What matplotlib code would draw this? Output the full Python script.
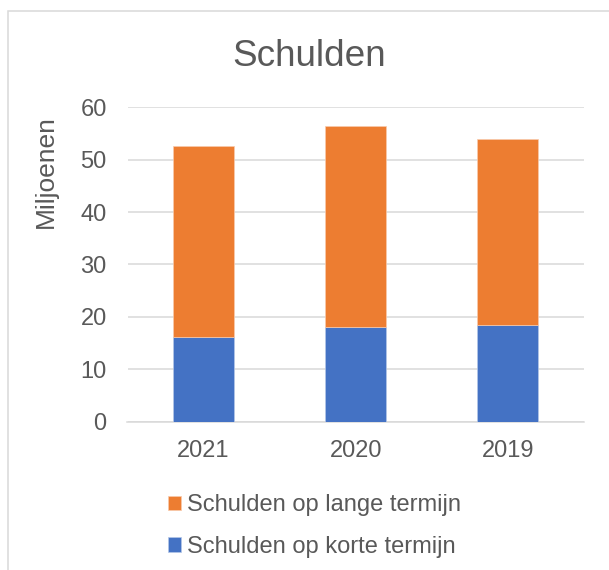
import matplotlib
matplotlib.use("Agg")
import matplotlib.pyplot as plt
from matplotlib.patches import Rectangle
import numpy as np

years = ["2021", "2020", "2019"]
korte_termijn = [16.1, 18.1, 18.4]
lange_termijn = [36.5, 38.3, 35.5]
yticks = [0, 10, 20, 30, 40, 50, 60]

blue = "#4472C4"
orange = "#ED7D31"
textc = "#595959"
gridc = "#D9D9D9"

plt.rcParams['font.family'] = ['Liberation Sans', 'DejaVu Sans']

W, H = 609, 570
fig = plt.figure(figsize=(W / 100, H / 100), dpi=100)
ax = fig.add_axes([127.5 / W, 1 - 421.7 / H, (584 - 127.5) / W, (421.7 - 107.3) / H])

x = np.arange(len(years))
b1 = ax.bar(x, korte_termijn, width=0.4, color=blue, edgecolor="#B4C7E7", linewidth=0.5,
            label="Schulden op korte termijn", zorder=3)
b2 = ax.bar(x, lange_termijn, bottom=korte_termijn, width=0.4, color=orange,
            edgecolor="#F8CBAD", linewidth=0.5, label="Schulden op lange termijn", zorder=3)

ax.set_xlim(-0.5, len(years) - 0.5)
ax.set_ylim(0, 60)
ax.set_yticks(yticks)
ax.set_xticks(x)
ax.set_xticklabels(years)
ax.grid(axis="y", color=gridc, linewidth=1.1, zorder=0)
for s in ["top", "right", "left"]:
    ax.spines[s].set_visible(False)
ax.spines["bottom"].set_color(gridc)
ax.spines["bottom"].set_linewidth(1.1)
ax.tick_params(axis="both", length=0, labelsize=17, labelcolor=textc)
ax.tick_params(axis="y", pad=15)
ax.tick_params(axis="x", pad=13)

fig.text(45.5 / W, 1 - 172 / H, "Miljoenen", rotation=90, ha="center", va="center",
         fontsize=19, color=textc)
fig.text(309.5 / W, 1 - 66 / H, "Schulden", ha="center", va="baseline",
         fontsize=26.6, color=textc)

leg = fig.legend(handles=[b2, b1], loc="upper left", bbox_to_anchor=(168 / W, 1 - 494 / H),
                 frameon=False, fontsize=17, handlelength=0.55, handleheight=0.55,
                 handletextpad=0.25, labelspacing=0.84, borderaxespad=0, borderpad=0)
for t in leg.get_texts():
    t.set_color(textc)

fig.add_artist(Rectangle((8 / W, -0.05), 1.1, 1 - 11 / H + 0.05, fill=False,
                         edgecolor=gridc, linewidth=1.1, transform=fig.transFigure,
                         clip_on=False))

fig.savefig("out.png", dpi=100)
